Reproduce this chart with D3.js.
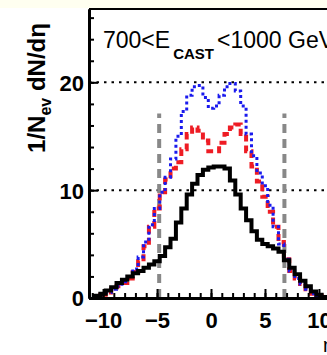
<!DOCTYPE html>
<html><head><meta charset="utf-8">
<script src="https://cdn.jsdelivr.net/npm/d3@7"></script>
<style>html,body{margin:0;padding:0;background:#fff;overflow:hidden}</style>
</head><body>
<svg id="c" width="327" height="355"></svg>
<script>
const eta = [-11,-10.5,-10,-9.5,-9,-8.5,-8,-7.5,-7,-6.5,-6,-5.5,-5,-4.5,-4,-3.5,-3,-2.5,-2,-1.5,-1,-0.5,0,0.5,1,1.5,2,2.5,3,3.5,4,4.5,5,5.5,6,6.5,7,7.5,8,8.5,9,9.5,10,10.5,11];
const black = [0.1,0.2,0.4,0.7,1.0,1.4,1.7,2.0,2.3,2.5,2.8,3.1,3.4,3.9,4.7,5.5,7.0,8.3,9.6,10.6,11.4,11.9,12.1,12.2,12.2,12.0,10.9,9.6,8.3,7.2,6.2,5.4,5.0,4.8,4.6,4.3,3.5,2.8,2.2,1.6,1.1,0.6,0.3,0.1,0.0];
const red = [0.0,0.1,0.3,0.5,0.8,1.1,1.4,1.8,2.4,3.4,4.8,6.6,8.3,9.8,11.0,12.0,12.6,13.8,15.2,15.8,15.5,14.6,13.6,13.6,14.4,15.2,15.8,16.1,15.2,13.6,12.2,10.8,9.4,8.0,6.6,5.2,3.6,2.5,1.8,1.3,0.8,0.4,0.2,0.05,0];
const blue = [0.0,0.1,0.3,0.5,0.8,1.1,1.5,2.0,2.7,3.8,5.2,6.8,8.3,9.8,11.2,12.9,15.0,17.3,18.8,19.6,19.7,18.6,17.6,17.8,18.8,19.6,19.9,19.2,17.8,15.2,13.2,11.6,10.4,8.6,6.6,5.0,3.6,2.5,1.8,1.3,0.8,0.4,0.2,0.05,0];
const xTicks = [-10,-5,0,5,10];
const yTicks = [0,10,20];
const gridY = [10,20];
const cutEta = [-4.8,6.8];
const cutTop = 17.1;

const svg = d3.select("#c");
svg.append("rect").attr("x",0).attr("y",0).attr("width",327).attr("height",8).attr("fill","#fffff0");
const x = d3.scaleLinear().domain([-11.3,11.3]).range([89,333]);
const y = d3.scaleLinear().domain([0,26.8]).range([298,9]);

svg.append("defs").append("clipPath").attr("id","cp").append("rect")
  .attr("x",89).attr("y",9).attr("width",244).attr("height",289);

const g = svg.append("g").attr("clip-path","url(#cp)");
g.selectAll(".grid").data(gridY).enter().append("line")
  .attr("x1",x(-11.3)).attr("x2",x(11.3)).attr("y1",d=>y(d)).attr("y2",d=>y(d))
  .attr("stroke","#000").attr("stroke-width",2).attr("stroke-dasharray","2.5,5");
g.selectAll(".cut").data(cutEta).enter().append("line")
  .attr("x1",d=>x(d)).attr("x2",d=>x(d)).attr("y1",y(0)).attr("y2",y(cutTop))
  .attr("stroke","#888").attr("stroke-width",4).attr("stroke-dasharray","9,6");

const line = d3.line().x((d,i)=>x(eta[i])).y(d=>y(d)).curve(d3.curveStep);
g.append("path").datum(red).attr("d",line).attr("fill","none")
  .attr("stroke","#ee1c24").attr("stroke-width",4).attr("stroke-dasharray","7,4");
g.append("path").datum(blue).attr("d",line).attr("fill","none")
  .attr("stroke","#1a1aee").attr("stroke-width",3).attr("stroke-dasharray","3,3");
g.append("path").datum(black).attr("d",line).attr("fill","none")
  .attr("stroke","#000").attr("stroke-width",4);

svg.append("line").attr("x1",89).attr("x2",333).attr("y1",9).attr("y2",9).attr("stroke","#000").attr("stroke-width",2);

const xMajor = d3.axisBottom(x).tickValues(xTicks).tickSizeInner(-9).tickSizeOuter(0).tickPadding(14).tickFormat(d3.format("d"));
const xMinor = d3.axisBottom(x).tickValues(d3.range(-11,12,1)).tickSizeInner(-5).tickSizeOuter(0).tickFormat("");
const yMajor = d3.axisLeft(y).tickValues(yTicks).tickSizeInner(-9).tickSizeOuter(0).tickPadding(5).tickFormat(d3.format("d"));
const yMinor = d3.axisLeft(y).tickValues(d3.range(0,27,2)).tickSizeInner(-5).tickSizeOuter(0).tickFormat("");

function style(sel){
  sel.select(".domain").attr("stroke","#000").attr("stroke-width",3);
  sel.selectAll(".tick line").attr("stroke","#000").attr("stroke-width",2);
  sel.selectAll("text").attr("font-family","Liberation Sans, Arial, sans-serif").attr("font-size",22).attr("font-weight","bold").attr("fill","#000");
}
svg.append("g").attr("transform","translate(0,298)").call(xMinor).call(style);
svg.append("g").attr("transform","translate(0,298)").call(xMajor).call(style);
svg.append("g").attr("transform","translate(89,0)").call(yMinor).call(style);
const ya = svg.append("g").attr("transform","translate(89,0)").call(yMajor).call(style);
ya.selectAll("text").attr("dy","0.36em");

const t = svg.append("text").attr("x",103).attr("y",48)
  .attr("font-family","Liberation Sans, Arial, sans-serif").attr("font-size",23).attr("fill","#000");
t.append("tspan").text("700<E");
t.append("tspan").attr("font-size",15).attr("font-weight","bold").attr("dx",3).attr("dy",11).text("CAST");
t.append("tspan").attr("dx",3).attr("dy",-11).text("<1000 GeV");

const yl = svg.append("text").attr("transform","translate(45,88) rotate(-90)").attr("text-anchor","middle")
  .attr("font-family","Liberation Sans, Arial, sans-serif").attr("font-size",24).attr("font-weight","bold").attr("fill","#000");
yl.append("tspan").text("1/N");
yl.append("tspan").attr("font-size",16).attr("dy",6).text("ev");
yl.append("tspan").attr("dy",-6).text(" dN/dη");

svg.append("text").attr("x",323).attr("y",352)
  .attr("font-family","Liberation Sans, Arial, sans-serif").attr("font-size",20).attr("fill","#000").text("η");
</script>
</body></html>
